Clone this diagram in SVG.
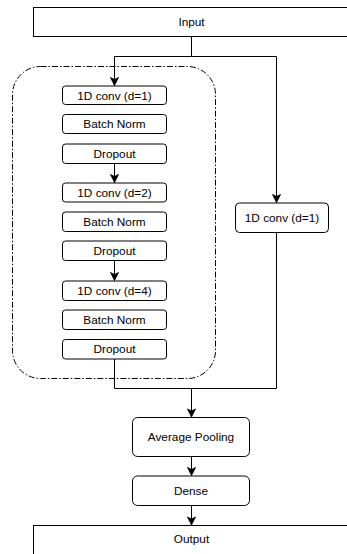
<svg xmlns="http://www.w3.org/2000/svg" width="347" height="554" viewBox="0 0 347 554">
  <style>
    .box { fill: #ffffff; stroke: #000000; stroke-width: 1; }
    .lbl { font-family: "Liberation Sans", Arial, sans-serif; font-size: 11.8px; fill: #000000; text-anchor: middle; }
    .wire { fill: none; stroke: #000000; stroke-width: 1; }
    .group { fill: none; stroke: #000000; stroke-width: 1; stroke-dasharray: 6 2 1.5 2; }
  </style>
  <defs>
    <marker id="arrow" markerUnits="userSpaceOnUse" markerWidth="10" markerHeight="10" viewBox="0 0 10 10" refX="9" refY="5" orient="auto">
      <path d="M1,1 L9,5 L1,9 L3,5 Z" fill="#000000" stroke="#000000" stroke-width="0.8"/>
    </marker>
  </defs>
  <rect width="347" height="554" fill="#ffffff"/>

  <!-- dilated convolution stack container -->
  <rect id="tcn-block" class="group" x="12.5" y="66.5" width="203" height="312" rx="28" ry="28"/>

  <g id="input">
    <rect class="box" x="33.5" y="7.5" width="320" height="29"/>
    <text class="lbl" x="191.5" y="26">Input</text>
  </g>

  <g id="conv1">
    <rect class="box" x="62.5" y="86" width="104" height="18.5" rx="3"/>
    <text class="lbl" x="114.5" y="99.5">1D conv (d=1)</text>
  </g>
  <g id="bn1">
    <rect class="box" x="62.5" y="114.5" width="104" height="19" rx="3"/>
    <text class="lbl" x="114.5" y="128">Batch Norm</text>
  </g>
  <g id="drop1">
    <rect class="box" x="62.5" y="144" width="104" height="19.5" rx="3"/>
    <text class="lbl" x="114.5" y="157.5">Dropout</text>
  </g>

  <g id="conv2">
    <rect class="box" x="62.5" y="183" width="104" height="19" rx="3"/>
    <text class="lbl" x="114.5" y="196.5">1D conv (d=2)</text>
  </g>
  <g id="bn2">
    <rect class="box" x="62.5" y="212" width="104" height="19.5" rx="3"/>
    <text class="lbl" x="114.5" y="225.5">Batch Norm</text>
  </g>
  <g id="drop2">
    <rect class="box" x="62.5" y="241" width="104" height="19.5" rx="3"/>
    <text class="lbl" x="114.5" y="254.5">Dropout</text>
  </g>

  <g id="conv4">
    <rect class="box" x="62.5" y="281" width="104" height="19.5" rx="3"/>
    <text class="lbl" x="114.5" y="294.5">1D conv (d=4)</text>
  </g>
  <g id="bn3">
    <rect class="box" x="62.5" y="310" width="104" height="19.5" rx="3"/>
    <text class="lbl" x="114.5" y="323.5">Batch Norm</text>
  </g>
  <g id="drop3">
    <rect class="box" x="62.5" y="339.5" width="104" height="19.5" rx="3"/>
    <text class="lbl" x="114.5" y="353">Dropout</text>
  </g>

  <g id="skip-conv">
    <rect class="box" x="235.5" y="203" width="93" height="29.5" rx="4"/>
    <text class="lbl" x="282" y="221.5">1D conv (d=1)</text>
  </g>

  <g id="avg-pool">
    <rect class="box" x="132.5" y="417.5" width="117" height="39" rx="5"/>
    <text class="lbl" x="191" y="441">Average Pooling</text>
  </g>
  <g id="dense">
    <rect class="box" x="132.5" y="476" width="117" height="29.5" rx="5"/>
    <text class="lbl" x="191" y="495">Dense</text>
  </g>

  <g id="output">
    <rect class="box" x="33.5" y="525.5" width="320" height="40"/>
    <text class="lbl" x="191.5" y="543">Output</text>
  </g>

  <g id="connectors">
    <!-- input split -->
    <path class="wire" d="M191.5,36.5 V56.5"/>
    <path class="wire" d="M191.5,56.5 H114.5 V85.5" marker-end="url(#arrow)"/>
    <path class="wire" d="M191.5,56.5 H276.5 V202.5" marker-end="url(#arrow)"/>
    <!-- block transitions -->
    <path class="wire" d="M114.5,163.5 V182.5" marker-end="url(#arrow)"/>
    <path class="wire" d="M114.5,260.5 V280.5" marker-end="url(#arrow)"/>
    <!-- merge of both branches -->
    <path class="wire" d="M114.5,359 V388.5 H191.5"/>
    <path class="wire" d="M276.5,232.5 V388.5 H191.5"/>
    <path class="wire" d="M191.5,388.5 V417" marker-end="url(#arrow)"/>
    <!-- head -->
    <path class="wire" d="M191.5,456.5 V475.5" marker-end="url(#arrow)"/>
    <path class="wire" d="M191.5,505.5 V525" marker-end="url(#arrow)"/>
  </g>
</svg>
